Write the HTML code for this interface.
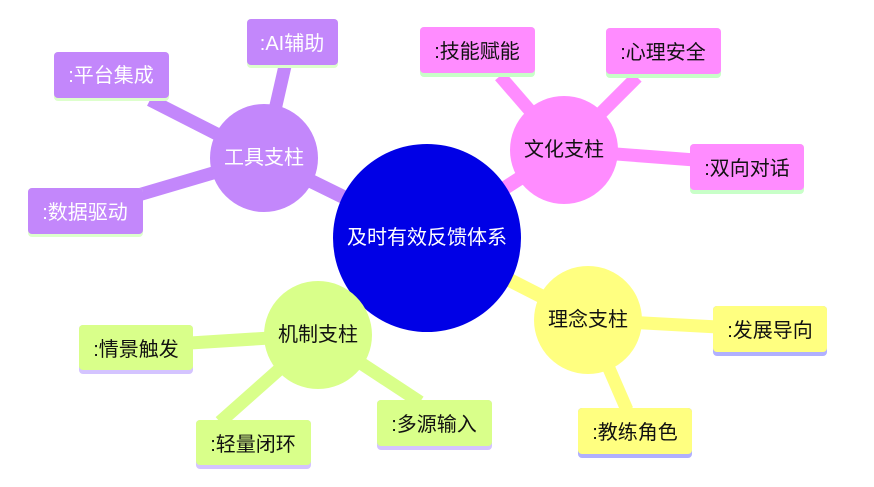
<!DOCTYPE html>
<html><head><meta charset="utf-8"><style>
html,body{margin:0;padding:0;background:#fff;width:874px;height:487px;overflow:hidden}
text{font-family:"Liberation Sans","Noto Sans CJK SC",sans-serif;font-size:20px;dominant-baseline:central;text-anchor:middle}
</style></head><body>
<svg width="874" height="487" viewBox="0 0 874 487">
<g stroke-linecap="butt">
<line x1="427" y1="238" x2="264" y2="158" stroke="#c387fb" stroke-width="14"/>
<line x1="427" y1="238" x2="564" y2="150" stroke="#ff8cff" stroke-width="14"/>
<line x1="427" y1="238" x2="588" y2="320" stroke="#ffff80" stroke-width="14"/>
<line x1="427" y1="238" x2="318" y2="335" stroke="#d9ff8a" stroke-width="14"/>
<line x1="264" y1="158" x2="150" y2="100" stroke="#c387fb" stroke-width="13"/>
<line x1="264" y1="158" x2="285" y2="66" stroke="#c387fb" stroke-width="13"/>
<line x1="264" y1="158" x2="135" y2="196" stroke="#c387fb" stroke-width="13"/>
<line x1="564" y1="150" x2="500" y2="76" stroke="#ff8cff" stroke-width="13"/>
<line x1="564" y1="150" x2="637" y2="77" stroke="#ff8cff" stroke-width="13"/>
<line x1="564" y1="150" x2="695" y2="160" stroke="#ff8cff" stroke-width="13"/>
<line x1="588" y1="320" x2="718" y2="327" stroke="#ffff80" stroke-width="13"/>
<line x1="588" y1="320" x2="627" y2="410" stroke="#ffff80" stroke-width="13"/>
<line x1="318" y1="335" x2="190" y2="343" stroke="#d9ff8a" stroke-width="13"/>
<line x1="318" y1="335" x2="220" y2="422" stroke="#d9ff8a" stroke-width="13"/>
<line x1="318" y1="335" x2="420" y2="402" stroke="#d9ff8a" stroke-width="13"/>
</g>
<circle cx="427" cy="238" r="94" fill="#0000e6"/>
<text x="427" y="238" fill="#fff">及时有效反馈体系</text>
<circle cx="264" cy="158" r="54" fill="#c387fb"/>
<text x="264" y="158" fill="#fff">工具支柱</text>
<circle cx="564" cy="150" r="54" fill="#ff8cff"/>
<text x="564" y="150" fill="#111">文化支柱</text>
<circle cx="588" cy="320" r="54" fill="#ffff80"/>
<text x="588" y="320" fill="#111">理念支柱</text>
<circle cx="318" cy="335" r="54" fill="#d9ff8a"/>
<text x="318" y="335" fill="#111">机制支柱</text>
<g>
<rect x="54" y="52" width="115" height="49" rx="4" fill="#ddffcc"/><rect x="54" y="52" width="115" height="46" rx="4" fill="#c387fb"/><text x="111" y="76" fill="#fff">:平台集成</text>
<rect x="247" y="19" width="91" height="49" rx="4" fill="#ddffcc"/><rect x="247" y="19" width="91" height="46" rx="4" fill="#c387fb"/><text x="292" y="44" fill="#fff">:AI辅助</text>
<rect x="28" y="188" width="115" height="49" rx="4" fill="#ddffcc"/><rect x="28" y="188" width="115" height="46" rx="4" fill="#c387fb"/><text x="85" y="213" fill="#fff">:数据驱动</text>
</g>
<g>
<rect x="420" y="27" width="115" height="50" rx="4" fill="#c8ffc8"/><rect x="420" y="27" width="115" height="46" rx="4" fill="#ff8cff"/><text x="477" y="52" fill="#111">:技能赋能</text>
<rect x="606" y="28" width="115" height="50" rx="4" fill="#c8ffc8"/><rect x="606" y="28" width="115" height="46" rx="4" fill="#ff8cff"/><text x="663" y="53" fill="#111">:心理安全</text>
<rect x="690" y="144" width="114" height="50" rx="4" fill="#c8ffc8"/><rect x="690" y="144" width="114" height="46" rx="4" fill="#ff8cff"/><text x="747" y="169" fill="#111">:双向对话</text>
</g>
<g>
<rect x="713" y="306" width="114" height="50" rx="4" fill="#b0b0ff"/><rect x="713" y="306" width="114" height="46" rx="4" fill="#ffff80"/><text x="770" y="331" fill="#111">:发展导向</text>
<rect x="578" y="408" width="114" height="50" rx="4" fill="#b0b0ff"/><rect x="578" y="408" width="114" height="46" rx="4" fill="#ffff80"/><text x="635" y="433" fill="#111">:教练角色</text>
</g>
<g>
<rect x="79" y="325" width="114" height="49" rx="4" fill="#d4c4ff"/><rect x="79" y="325" width="114" height="45" rx="4" fill="#d9ff8a"/><text x="136" y="350" fill="#111">:情景触发</text>
<rect x="196" y="420" width="115" height="49" rx="4" fill="#d4c4ff"/><rect x="196" y="420" width="115" height="45" rx="4" fill="#d9ff8a"/><text x="253" y="445" fill="#111">:轻量闭环</text>
<rect x="377" y="400" width="115" height="50" rx="4" fill="#d4c4ff"/><rect x="377" y="400" width="115" height="46" rx="4" fill="#d9ff8a"/><text x="434" y="425" fill="#111">:多源输入</text>
</g>
</svg>
</body></html>
